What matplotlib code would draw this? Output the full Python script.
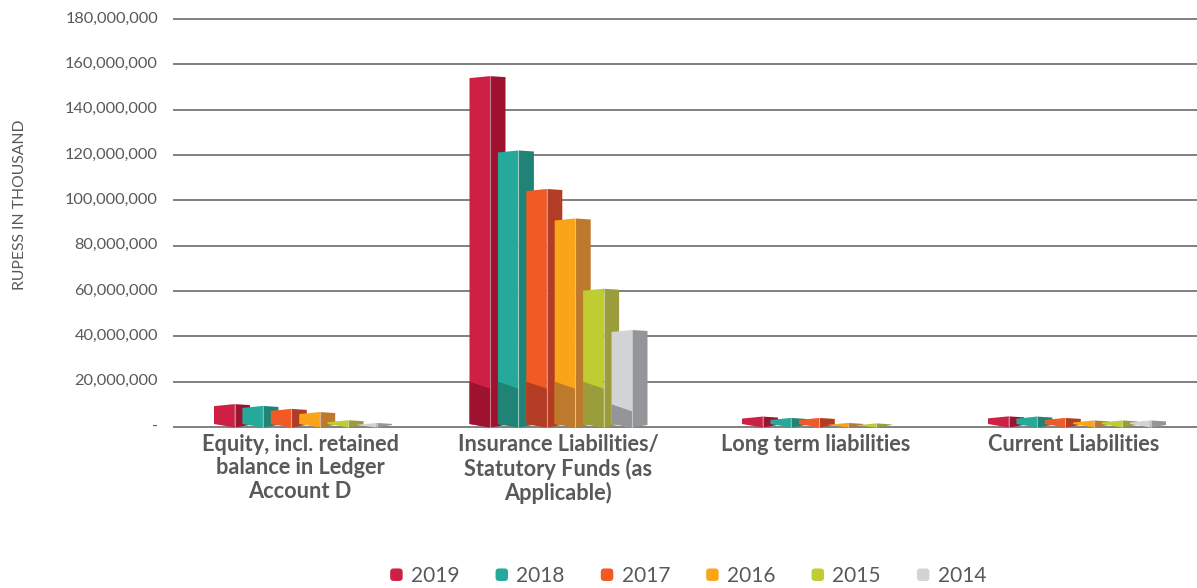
import matplotlib
matplotlib.use("Agg")
import matplotlib.pyplot as plt
from matplotlib.legend_handler import HandlerPatch
from matplotlib.patches import FancyBboxPatch, Patch
from matplotlib.transforms import ScaledTranslation

W = 1197
H = 588

categories = ["Equity, incl. retained\nbalance in Ledger\nAccount D",
              "Insurance Liabilities/\nStatutory Funds (as\nApplicable)",
              "Long term liabilities",
              "Current Liabilities"]
years = ["2019", "2018", "2017", "2016", "2015", "2014"]

# millions of rupees in thousand
v2019 = [10.1, 154.8, 4.6, 4.7]
v2018 = [9.3, 122.0, 4.0, 4.6]
v2017 = [8.0, 105.0, 4.0, 4.0]
v2016 = [6.6, 92.0, 1.8, 2.9]
v2015 = [3.0, 61.0, 1.6, 2.9]
v2014 = [1.8, 42.8, 0.0, 2.9]
series = [v2019, v2018, v2017, v2016, v2015, v2014]

# darker lower part of the front face, only the tall group has it
shade_2019 = [0, 20, 0, 0]
shade_2018 = [0, 20, 0, 0]
shade_2017 = [0, 20, 0, 0]
shade_2016 = [0, 20, 0, 0]
shade_2015 = [0, 20, 0, 0]
shade_2014 = [0, 10, 0, 0]
shades = [shade_2019, shade_2018, shade_2017, shade_2016, shade_2015, shade_2014]

y_ticks = [0, 20, 40, 60, 80, 100, 120, 140, 160, 180]
y_labels = ["-", "20,000,000", "40,000,000", "60,000,000", "80,000,000", "100,000,000",
            "120,000,000", "140,000,000", "160,000,000", "180,000,000"]

front_colors = ["#ce1f45", "#24a99a", "#f15a25", "#faa41a", "#bfcc32", "#d1d3d4"]
side_colors = ["#9e1230", "#1f8475", "#b33c24", "#bd7a2c", "#9a9d39", "#939598"]
TEXT = "#58595b"
GRID = "#808080"

# pixel sizes of the fake 3d bars
CAT_PX = 258.0
Y_PX = 408.0 / 180.0
FRONT = 20.5 / CAT_PX
SIDE = 15.5 / CAT_PX
PITCH = 28.4 / CAT_PX
group_start = [-86 / CAT_PX, -88.5 / CAT_PX, -74 / CAT_PX, -86 / CAT_PX]

plt.rcParams["font.family"] = ["Lato", "DejaVu Sans"]

fig = plt.figure(figsize=(W / 100, H / 100), dpi=100)
ax = fig.add_axes([174 / W, (H - 427) / H, 1 - 174 / W, 408 / H])
ax.set_xlim((174 - 300) / CAT_PX, (W - 300) / CAT_PX)
ax.set_ylim(0, 180)


def draw_bar(x, val, shade, front, side):
    if val <= 0:
        return
    # all slants are in pixels, turned into data units
    top_l = max(val - 2.0 / Y_PX, 1.2 / Y_PX)
    top_r = max(val - 1.0 / Y_PX, 1.2 / Y_PX)
    bot_l = min(3.0 / Y_PX, top_l)
    bot_m = -0.5 / Y_PX
    bot_r = min(2.0 / Y_PX, top_r)
    xm = x + FRONT
    xr = xm + SIDE
    ax.fill([x, xm, xm, x], [bot_l, bot_m, val, top_l], color=front, lw=0, zorder=3, clip_on=False)
    ax.fill([xm, xr, xr, xm], [bot_m, bot_r, top_r, val], color=side, lw=0, zorder=3, clip_on=False)
    if shade > 0:
        ax.fill([x, xm, xm, x], [bot_l, bot_m, shade - 7 / Y_PX, shade], color=side, lw=0,
                zorder=3, clip_on=False)
    ax.plot([xm, xm], [bot_m, val], color="white", lw=0.8, alpha=0.45, zorder=3, clip_on=False)


for i in range(len(categories)):
    for j in range(len(years)):
        draw_bar(i + group_start[i] + j * PITCH, series[j][i], shades[j][i], front_colors[j], side_colors[j])

ax.set_yticks(y_ticks)
ax.set_yticklabels(y_labels, fontsize=11.8, color=TEXT)
ax.set_xticks(range(len(categories)))
ax.set_xticklabels(categories, fontsize=15.7, fontweight="bold", color=TEXT, linespacing=1.15)
ax.tick_params(axis="y", length=0, pad=11.5)
ax.tick_params(axis="x", length=0, pad=5)
ax.grid(axis="y", color=GRID, lw=1.4, zorder=1)
for line in ax.get_ygridlines():
    line.set_clip_on(False)
ax.set_axisbelow(True)
for s in ax.spines.values():
    s.set_visible(False)

# reference labels sit a little above their lines
up = ScaledTranslation(0, 2 / 100, fig.dpi_scale_trans)
for lab in ax.get_yticklabels():
    lab.set_transform(lab.get_transform() + up)

fig.text(20 / W, 1 - 205 / H, "RUPESS IN THOUSAND", rotation=90, ha="center", va="center",
         fontsize=11.3, color=TEXT)


def round_box(legend, orig_handle, xdescent, ydescent, width, height, fontsize):
    side_len = 9.0
    x = width / 2 - side_len / 2 - xdescent
    y = height / 2 - side_len / 2 - ydescent
    return FancyBboxPatch((x, y), side_len, side_len, boxstyle="round,pad=0,rounding_size=2.5")


handles = [Patch(facecolor=c, label=y) for c, y in zip(front_colors, years)]
fig.legend(handles=handles, loc="center", bbox_to_anchor=(688 / W, 1 - 576 / H), ncol=6, frameon=False,
           fontsize=15, labelcolor=TEXT, handlelength=0.65, handletextpad=0.38, columnspacing=1.7,
           handler_map={Patch: HandlerPatch(patch_func=round_box)})

fig.savefig("out.png", dpi=100)
